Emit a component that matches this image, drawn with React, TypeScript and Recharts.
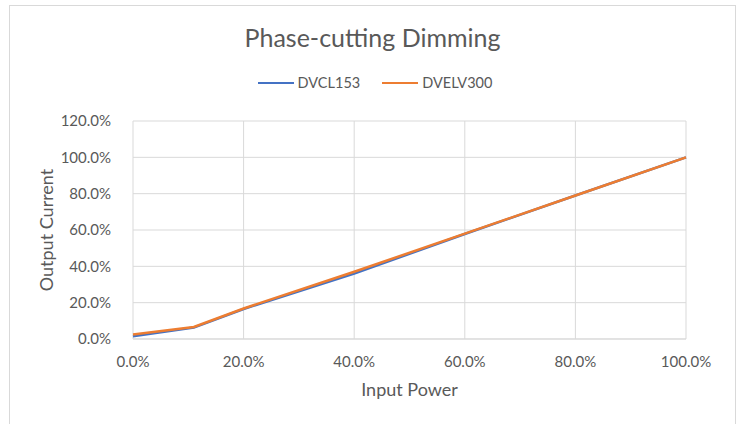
import { LineChart, Line, XAxis, YAxis, CartesianGrid } from "recharts";

// input power (%)
const inputPower = [0, 11, 20, 40, 60, 80, 100];
const dvcl153 = [1.5, 6.3, 16.5, 36.0, 57.8, 79.0, 100];
const dvelv300 = [2.5, 6.6, 16.8, 37.0, 58.0, 79.0, 100];
const xTicks = [0, 20, 40, 60, 80, 100];
const yTicks = [0, 20, 40, 60, 80, 100, 120];

const series = [
  { key: "DVCL153", color: "#4472C4" },
  { key: "DVELV300", color: "#ED7D31" },
];

const data = inputPower.map((x, i) => ({
  x,
  DVCL153: dvcl153[i],
  DVELV300: dvelv300[i],
}));

const FONT = "Lato, 'Open Sans', sans-serif";
const TEXT = "#595959";
const GRID = "#d9d9d9";

const pct = (v: number) => `${v.toFixed(1)}%`;

export default function App() {
  return (
    <div style={{ position: "absolute", left: 0, top: 0, width: 739, height: 424, background: "#fff", fontFamily: FONT }}>
      <div
        style={{
          position: "absolute",
          left: 9,
          top: 5,
          width: 725,
          height: 430,
          border: `1px solid ${GRID}`,
        }}
      />
      <div
        style={{
          position: "absolute",
          top: 22,
          left: 0,
          width: 745,
          textAlign: "center",
          fontSize: 25,
          color: TEXT,
        }}
      >
        Phase-cutting Dimming
      </div>
      {/* legend, drawn by hand so it does not eat the plot area */}
      <div
        style={{
          position: "absolute",
          top: 74,
          left: 0,
          width: 750,
          display: "flex",
          justifyContent: "center",
          gap: 22,
          fontSize: 14.5,
          color: TEXT,
        }}
      >
        {series.map((s) => (
          <div key={s.key} style={{ display: "flex", alignItems: "center" }}>
            <span style={{ display: "inline-block", width: 36, height: 2, background: s.color, marginRight: 4 }} />
            {s.key}
          </div>
        ))}
      </div>
      <div style={{ position: "absolute", left: 0, top: 0 }}>
        <LineChart
          width={739}
          height={424}
          data={data}
          margin={{ top: 121, right: 53, bottom: 0, left: 0 }}
        >
          <CartesianGrid stroke={GRID} strokeWidth={1} />
          <XAxis
            dataKey="x"
            type="number"
            domain={[0, 100]}
            ticks={xTicks}
            interval={0}
            tickFormatter={pct}
            tick={{ fill: TEXT, fontSize: 15, fontFamily: FONT }}
            tickLine={false}
            axisLine={{ stroke: GRID }}
            tickMargin={11}
            height={85}
            label={{ value: "Input Power", position: "insideTop", offset: 44, fill: TEXT, fontSize: 18, fontFamily: FONT }}
          />
          <YAxis
            type="number"
            domain={[0, 120]}
            ticks={yTicks}
            interval={0}
            tickFormatter={pct}
            tick={{ fill: TEXT, fontSize: 15, fontFamily: FONT }}
            tickLine={false}
            axisLine={false}
            tickMargin={16}
            width={133}
            label={{
              value: "Output Current",
              angle: -90,
              position: "insideLeft",
              offset: 47,
              style: { textAnchor: "middle" },
              fill: TEXT,
              fontSize: 18,
              fontFamily: FONT,
            }}
          />
          {series.map((s) => (
            <Line
              key={s.key}
              dataKey={s.key}
              stroke={s.color}
              strokeWidth={2.5}
              dot={false}
              isAnimationActive={false}
            />
          ))}
        </LineChart>
      </div>
    </div>
  );
}
